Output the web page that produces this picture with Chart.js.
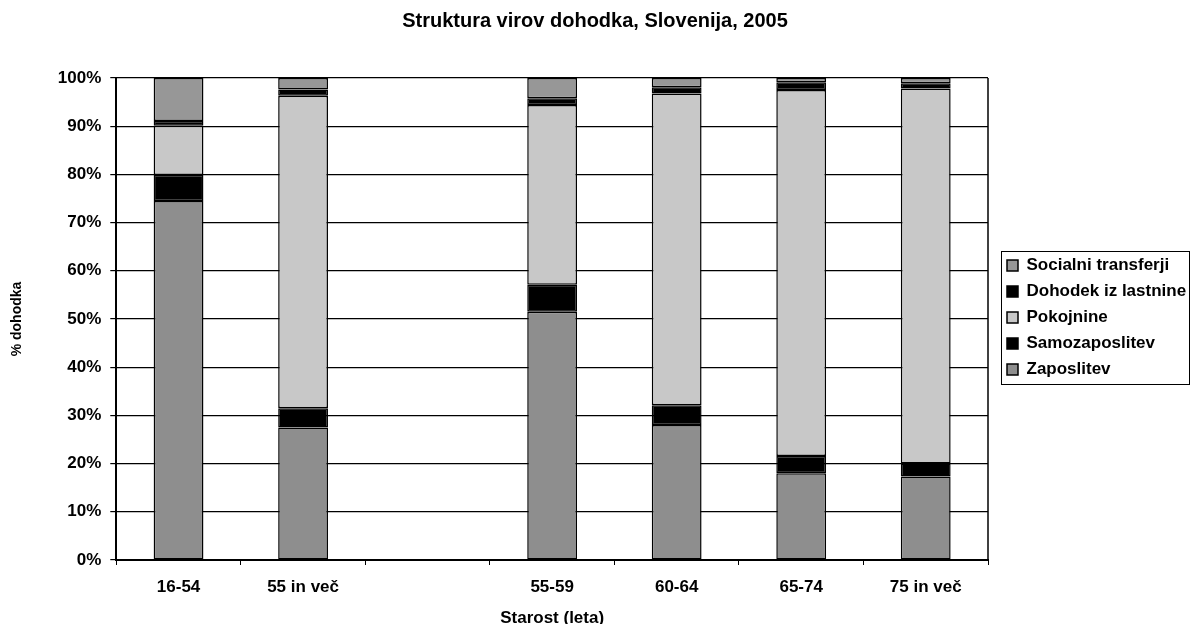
<!DOCTYPE html>
<html>
<head>
<meta charset="utf-8">
<script src="https://cdn.jsdelivr.net/npm/chart.js@4"></script>
<style>
  html, body { margin: 0; padding: 0; background: #fff; }
  #wrap { width: 1190px; height: 624px; }
</style>
</head>
<body>
<div id="wrap"><canvas id="myChart"></canvas></div>
<script>
const categories = ['16-54', '55 in več', '', '55-59', '60-64', '65-74', '75 in več'];
const zaposlitev = [74.5, 27.5, null, 51.5, 28.0, 18.0, 17.3];
const samozaposlitev = [5.4, 4.0, null, 5.6, 4.1, 3.6, 2.7];
const pokojnine = [10.2, 64.8, null, 37.3, 64.7, 75.9, 77.8];
const dohodekIzLastnine = [1.0, 1.3, null, 1.4, 1.3, 1.6, 1.1];
const socialniTransferji = [8.9, 2.4, null, 4.2, 1.9, 0.9, 1.1];
const yTicks = [0, 10, 20, 30, 40, 50, 60, 70, 80, 90, 100];

const ctx = document.getElementById('myChart');
const FONT = 'Liberation Sans, Arial, sans-serif';
const bold = { family: FONT, weight: 'bold', size: 17 };
const boldTight = { family: FONT, weight: 'bold', size: 17, lineHeight: 1 };

// legend sits to the right of the plot with a gap, plus a frame round it
const frames = {
    id: 'frames',
    afterInit(chart) {
        const lg = chart.legend;
        const fit = lg.fit.bind(lg);
        lg.fit = function () { fit(); this.width = 202; };
    },
    afterLayout(chart) {
        const lg = chart.legend;
        lg.left += 10;
        lg.top += 4;
        lg.bottom += 4;
    },
    afterDraw(chart) {
        const c = chart.ctx, a = chart.chartArea, lg = chart.legend;
        const hb = lg.legendHitBoxes;
        c.save();
        c.strokeStyle = '#000';
        c.lineWidth = 1.5;
        c.beginPath();
        c.moveTo(a.right, a.top);
        c.lineTo(a.right, a.bottom);
        c.stroke();
        if (hb && hb.length) {
            const last = hb[hb.length - 1];
            const x0 = hb[0].left - 6, y0 = hb[0].top - 6;
            const y1 = last.top + last.height + 6;
            c.lineWidth = 1;
            c.strokeRect(Math.round(x0) + 0.5, Math.round(y0) + 0.5, 1189 - Math.round(x0), Math.round(y1 - y0));
        }
        c.restore();
    }
};

function ds(label, data, color) {
    return {
        label: label,
        data: data,
        backgroundColor: color,
        borderColor: '#000',
        borderWidth: 1.5,
        borderSkipped: false
    };
}

new Chart(ctx, {
    type: 'bar',
    data: {
        labels: categories,
        datasets: [
            ds('Zaposlitev', zaposlitev, '#8e8e8e'),
            ds('Samozaposlitev', samozaposlitev, '#000000'),
            ds('Pokojnine', pokojnine, '#c8c8c8'),
            ds('Dohodek iz lastnine', dohodekIzLastnine, '#000000'),
            ds('Socialni transferji', socialniTransferji, '#979797')
        ]
    },
    options: {
        responsive: true,
        maintainAspectRatio: false,
        animation: false,
        layout: { padding: { top: 0, right: 0, bottom: -3, left: 0 } },
        datasets: { bar: { barPercentage: 0.4, categoryPercentage: 1.0 } },
        plugins: {
            title: {
                display: true,
                text: 'Struktura virov dohodka, Slovenija, 2005',
                color: '#000',
                font: { family: FONT, weight: 'bold', size: 20 },
                padding: { top: 9, bottom: 45 }
            },
            legend: {
                position: 'right',
                reverse: true,
                labels: {
                    color: '#000',
                    font: { family: FONT, weight: 'bold', size: 17 },
                    boxWidth: 11,
                    boxHeight: 11,
                    padding: 9
                }
            },
            tooltip: { enabled: false }
        },
        scales: {
            x: {
                stacked: true,
                grid: { display: true, drawOnChartArea: false, offset: true, color: '#000', tickLength: 5 },
                border: { color: '#000', width: 2 },
                ticks: { color: '#000', font: boldTight, padding: 14 },
                title: { display: true, text: 'Starost (leta)', color: '#000', font: boldTight, padding: { top: 0, bottom: 0 } }
            },
            y: {
                stacked: true,
                min: 0,
                max: 100,
                afterBuildTicks(axis) { axis.ticks = yTicks.map(v => ({ value: v })); },
                grid: { color: '#000', lineWidth: 1.2, tickLength: 6 },
                border: { color: '#000', width: 2 },
                ticks: { color: '#000', font: bold, callback: v => v + '%', padding: 9 },
                title: { display: true, text: '% dohodka', color: '#000', font: { family: FONT, weight: 'bold', size: 14 }, padding: { top: 9, bottom: 23 } }
            }
        }
    },
    plugins: [frames]
});
</script>
</body>
</html>
